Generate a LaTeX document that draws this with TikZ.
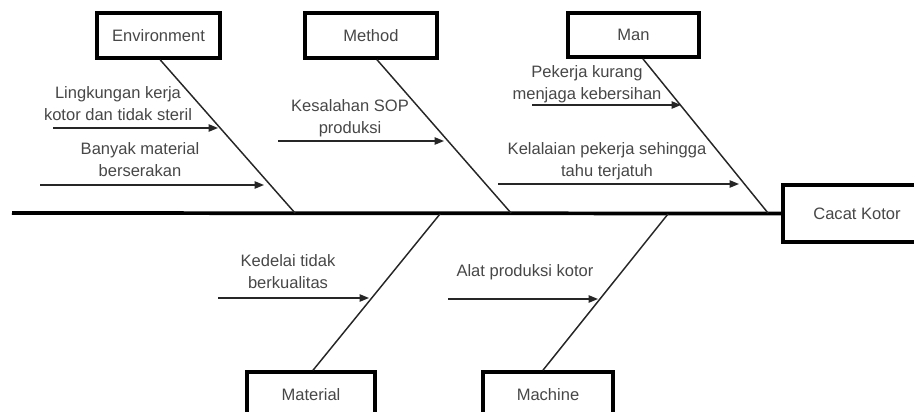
\documentclass[tikz,border=0pt]{standalone}
\usepackage{fontspec}
\setmainfont{Liberation Sans}
\usetikzlibrary{arrows.meta,calc}
\begin{document}
\begin{tikzpicture}[x=0.75pt,y=-0.75pt,
  catbox/.style={draw=black,line width=2.6pt,fill=white,text=black!72,
    inner sep=0pt,font=\fontsize{12.4}{16}\selectfont},
  lbl/.style={text=black!72,align=center,inner sep=0pt,
    font=\fontsize{12.4}{16.5}\selectfont},
  bone/.style={draw=black!85,line width=1.1pt},
  spine/.style={draw=black,line width=2.8pt},
  cause/.style={draw=black!85,line width=1pt,-{Triangle[length=7pt,width=5.5pt]}}]
\useasboundingbox (0,0) rectangle (914,411);
\clip (0,0) rectangle (914,411);
% category boxes
\node[catbox,minimum width=92.25pt,minimum height=33.75pt] (env) at (158.5,35.5) {Environment};
\node[catbox,minimum width=99pt,minimum height=33.75pt] (met) at (371,35.5) {Method};
\node[catbox,minimum width=98.25pt,minimum height=33pt] (man) at (633.5,35) {Man};
\node[catbox,minimum width=111pt,minimum height=42.75pt] (eff) at (857,213.5) {Cacat Kotor};
\node[catbox,minimum width=96pt,minimum height=33.75pt] (mat) at (311,394.5) {Material};
\node[catbox,minimum width=97.5pt,minimum height=33.75pt] (mac) at (548,394.5) {Machine};
% spine
\coordinate (s0) at (12,213);
\draw[spine] (s0) -- (eff.west);
% bone joints on spine
\coordinate (je) at (295,213);
\coordinate (jm) at (511,213);
\coordinate (jn) at (768,213);
\coordinate (ja) at (440,214);
\coordinate (jc) at (668,214);
\draw[bone] ([xshift=1.2pt]env.south) -- (je);
\draw[bone] ([xshift=4.5pt]met.south) -- (jm);
\draw[bone] ([xshift=7pt]man.south) -- (jn);
\draw[bone] ([xshift=1.5pt]mat.north) -- (ja);
\draw[bone] ([xshift=-3.8pt]mac.north) -- (jc);
% cause arrows
\coordinate (a1s) at (53,128);  \coordinate (a1e) at (218,128);
\coordinate (a2s) at (40,185);  \coordinate (a2e) at (264,185);
\coordinate (a3s) at (278,141); \coordinate (a3e) at (444,141);
\coordinate (a4s) at (532,105); \coordinate (a4e) at (681,105);
\coordinate (a5s) at (498,184); \coordinate (a5e) at (739,184);
\coordinate (a6s) at (218,298); \coordinate (a6e) at (369,298);
\coordinate (a7s) at (448,299); \coordinate (a7e) at (598,299);
\draw[cause] (a1s) -- (a1e);
\draw[cause] (a2s) -- (a2e);
\draw[cause] (a3s) -- (a3e);
\draw[cause] (a4s) -- (a4e);
\draw[cause] (a5s) -- (a5e);
\draw[cause] (a6s) -- (a6e);
\draw[cause] (a7s) -- (a7e);
% labels
\node[lbl] (t1) at (118,103.5) {Lingkungan kerja\\kotor dan tidak steril};
\node[lbl] (t2) at (140,159.5) {Banyak material\\berserakan};
\node[lbl] (t3) at (350,118) {Kesalahan SOP\\produksi};
\node[lbl] (t4) at (587,84) {Pekerja kurang\\menjaga kebersihan};
\node[lbl] (t5) at (607,161) {Kelalaian pekerja sehingga\\tahu terjatuh};
\node[lbl] (t6) at (288,271.5) {Kedelai tidak\\berkualitas};
\node[lbl] (t7) at (525,272) {Alat produksi kotor};
\end{tikzpicture}
\end{document}
